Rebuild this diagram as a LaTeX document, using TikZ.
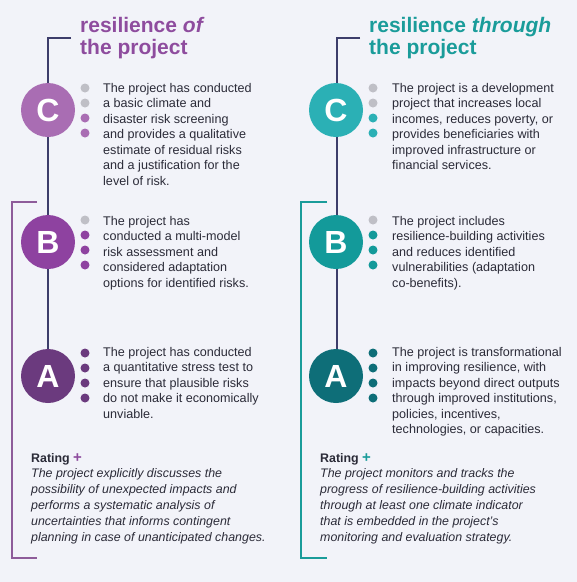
\documentclass[tikz,border=0pt]{standalone}
\usepackage{fontspec}
\setmainfont{Liberation Sans}
\definecolor{bg}{HTML}{F2F3F9}
\definecolor{navy}{HTML}{3D3D6B}
\definecolor{txt}{HTML}{2B2B38}
\definecolor{gry}{HTML}{BFBFC6}
\definecolor{pC}{HTML}{A96DB3}
\definecolor{pB}{HTML}{8E42A0}
\definecolor{pA}{HTML}{6B3A7E}
\definecolor{pT}{HTML}{8E4C9E}
\definecolor{pBr}{HTML}{8E5C9A}
\definecolor{tC}{HTML}{2BB0B5}
\definecolor{tB}{HTML}{139A9A}
\definecolor{tA}{HTML}{0E6E78}
\definecolor{tT}{HTML}{1A9C9A}
\newcommand{\ratingplus}[1]{{\color{#1}\fontsize{15}{15}\selectfont\textbf{+}}}
\begin{document}
\begin{tikzpicture}[x=1pt,y=-1pt,
  grade/.style={circle,minimum size=54pt,inner sep=0pt,text=white,font=\fontsize{32}{32}\selectfont\bfseries},
  dot/.style={circle,minimum size=9pt,inner sep=0pt},
  body/.style={anchor=north west,align=left,inner sep=0pt,text=txt,font=\fontsize{12.6}{15.5}\selectfont,execute at begin node={\rule{0pt}{10pt}}},
  ttl/.style={anchor=north west,align=left,inner sep=0pt,font=\fontsize{21}{22.5}\selectfont\bfseries,execute at begin node={\rule{0pt}{17pt}}},
  rate/.style={anchor=north west,align=left,inner sep=0pt,text=txt,font=\fontsize{12.4}{15.8}\selectfont,execute at begin node={\rule{0pt}{10pt}}},
  spine/.style={draw=navy,line width=1.1pt},
  brk/.style={line width=1.1pt}]
\fill[bg] (0,0) rectangle (577,582);
\useasboundingbox (0,0) rectangle (577,582);

% ---------------- left column ----------------
\coordinate (Ltop) at (71,38);
\coordinate (Lcorner) at (48,38);
\coordinate (Lend) at (48,360);
\draw[spine] (Ltop) -- (Lcorner) -- (Lend);
\node[ttl,text=pT] (Lt) at (80,34-17) {resilience \textit{of}\\the project};
\node[grade,fill=pC] (LC) at (48,110) {C};
\node[grade,fill=pB] (LB) at (48,242) {B};
\node[grade,fill=pA] (LA) at (48,376) {A};

\node[dot,fill=gry] (LC1) at (85,88) {};
\node[dot,fill=gry] (LC2) at (85,103) {};
\node[dot,fill=pC] (LC3) at (85,118) {};
\node[dot,fill=pC] (LC4) at (85,133) {};
\node[body] (LCt) at (103,93-10) {The project has conducted\\a basic climate and\\disaster risk screening\\and provides a qualitative\\estimate of residual risks\\and a justification for the\\level of risk.};

\node[dot,fill=gry] (LB1) at (85,220) {};
\node[dot,fill=pB] (LB2) at (85,235) {};
\node[dot,fill=pB] (LB3) at (85,250) {};
\node[dot,fill=pB] (LB4) at (85,265) {};
\node[body] (LBt) at (103,226-10) {The project has\\conducted a multi-model\\risk assessment and\\considered adaptation\\options for identified risks.};

\node[dot,fill=pA] (LA1) at (85,353) {};
\node[dot,fill=pA] (LA2) at (85,368) {};
\node[dot,fill=pA] (LA3) at (85,383) {};
\node[dot,fill=pA] (LA4) at (85,398) {};
\node[body] (LAt) at (103,357-10) {The project has conducted\\a quantitative stress test to\\ensure that plausible risks\\do not make it economically\\unviable.};

\coordinate (Lb1) at (37,202);
\coordinate (Lb2) at (12,202);
\coordinate (Lb3) at (12,558);
\coordinate (Lb4) at (37,558);
\draw[brk,draw=pBr] (Lb1) -- (Lb2) -- (Lb3) -- (Lb4);
\node[rate] (LR) at (31,463-10) {\textbf{Rating} \ratingplus{pT}\\\textit{The project explicitly discusses the}\\\textit{possibility of unexpected impacts and}\\\textit{performs a systematic analysis of}\\\textit{uncertainties that informs contingent}\\\textit{planning in case of unanticipated changes.}};

% ---------------- right column ----------------
\coordinate (Rtop) at (360,38);
\coordinate (Rcorner) at (337,38);
\coordinate (Rend) at (337,360);
\draw[spine] (Rtop) -- (Rcorner) -- (Rend);
\node[ttl,text=tT] (Rt) at (369,34-17) {resilience \textit{through}\\the project};
\node[grade,fill=tC] (RC) at (336,110) {C};
\node[grade,fill=tB] (RB) at (336,242) {B};
\node[grade,fill=tA] (RA) at (336,376) {A};

\node[dot,fill=gry] (RC1) at (373,88) {};
\node[dot,fill=gry] (RC2) at (373,103) {};
\node[dot,fill=tC] (RC3) at (373,118) {};
\node[dot,fill=tC] (RC4) at (373,133) {};
\node[body] (RCt) at (392,93-10) {The project is a development\\project that increases local\\incomes, reduces poverty, or\\provides beneficiaries with\\improved infrastructure or\\financial services.};

\node[dot,fill=gry] (RB1) at (373,220) {};
\node[dot,fill=tB] (RB2) at (373,235) {};
\node[dot,fill=tB] (RB3) at (373,250) {};
\node[dot,fill=tB] (RB4) at (373,265) {};
\node[body] (RBt) at (392,226-10) {The project includes\\resilience-building activities\\and reduces identified\\vulnerabilities (adaptation\\co-benefits).};

\node[dot,fill=tA] (RA1) at (373,353) {};
\node[dot,fill=tA] (RA2) at (373,368) {};
\node[dot,fill=tA] (RA3) at (373,383) {};
\node[dot,fill=tA] (RA4) at (373,398) {};
\node[body] (RAt) at (392,357-10) {The project is transformational\\in improving resilience, with\\impacts beyond direct outputs\\through improved institutions,\\policies, incentives,\\technologies, or capacities.};

\coordinate (Rb1) at (327,202);
\coordinate (Rb2) at (301,202);
\coordinate (Rb3) at (301,558);
\coordinate (Rb4) at (327,558);
\draw[brk,draw=tT] (Rb1) -- (Rb2) -- (Rb3) -- (Rb4);
\node[rate] (RR) at (320,463-10) {\textbf{Rating} \ratingplus{tT}\\\textit{The project monitors and tracks the}\\\textit{progress of resilience-building activities}\\\textit{through at least one climate indicator}\\\textit{that is embedded in the project's}\\\textit{monitoring and evaluation strategy.}};
\end{tikzpicture}
\end{document}
